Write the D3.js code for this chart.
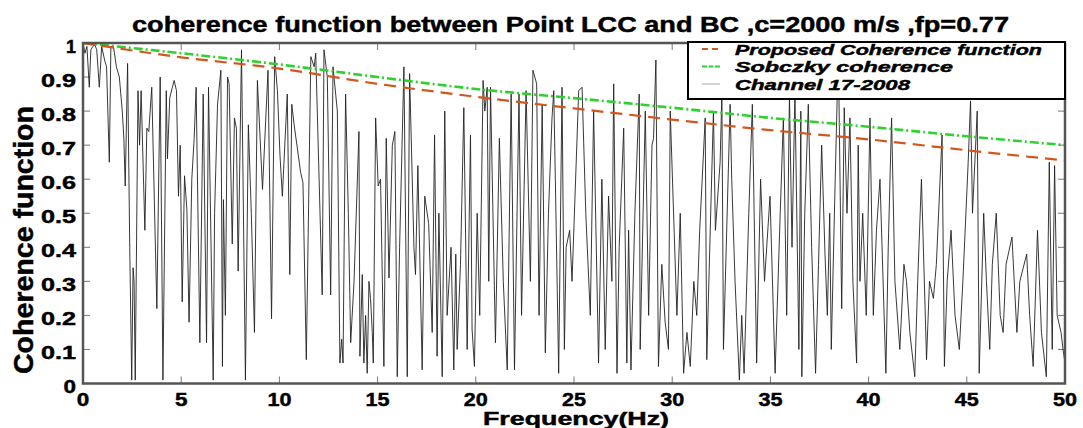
<!DOCTYPE html>
<html>
<head>
<meta charset="utf-8">
<script src="https://cdn.jsdelivr.net/npm/d3@7/dist/d3.min.js"></script>
<style>
  html, body { margin: 0; padding: 0; background: #fff; }
  svg { display: block; }
  text { font-family: "Liberation Sans", Arial, Helvetica, sans-serif; font-weight: bold; fill: #000; stroke: #000; stroke-width: 0.45; }
</style>
</head>
<body>
<svg id="chart" width="1083" height="428"></svg>
<script>
// ---------------- data ----------------
const titleText = "coherence function between Point LCC and BC ,c=2000 m/s ,fp=0.77";
const xLabelText = "Frequency(Hz)";
const yLabelText = "Coherence function";
const legendLabels = ["Proposed Coherence function", "Sobczky coherence", "Channel 17-2008"];

const xTicks = [0, 5, 10, 15, 20, 25, 30, 35, 40, 45, 50];
const yTicks = [0, 0.1, 0.2, 0.3, 0.4, 0.5, 0.6, 0.7, 0.8, 0.9, 1];
const yTickLabels = ["0", "0.1", "0.2", "0.3", "0.4", "0.5", "0.6", "0.7", "0.8", "0.9", "1"];

// model curves, read at 5 Hz steps
const modelFreq = [0, 5, 10, 15, 20, 25, 30, 35, 40, 45, 50];
const proposed = [1.0, 0.958, 0.925, 0.88, 0.842, 0.808, 0.775, 0.744, 0.717, 0.685, 0.655];
const sobczky  = [1.0, 0.97, 0.937, 0.90, 0.865, 0.838, 0.81, 0.78, 0.754, 0.726, 0.70];

const channel = [
[0,1.0],[0.1,0.97],[0.2,0.99],[0.32,0.87],[0.4,0.98],[0.5,0.99],[0.6,0.995],[0.7,0.98],[0.83,0.87],[0.95,0.99],
[1.1,0.95],[1.2,0.93],[1.34,0.65],[1.42,0.99],[1.55,0.99],[1.7,0.93],[1.85,0.9],[2.0,0.8],[2.08,0.72],[2.15,0.58],
[2.27,0.94],[2.38,0.4],[2.48,0.01],[2.55,0.34],[2.6,0.3],[2.66,0.01],[2.8,0.86],[2.88,0.7],[2.96,0.86],[3.15,0.45],
[3.25,0.75],[3.35,0.74],[3.5,0.87],[3.76,0.22],[3.93,0.9],[4.07,0.01],[4.24,0.86],[4.3,0.66],[4.42,0.84],[4.64,0.89],
[4.76,0.86],[4.86,0.55],[4.95,0.7],[5.05,0.24],[5.17,0.61],[5.29,0.51],[5.4,0.18],[5.54,0.6],[5.66,0.72],[5.76,0.87],
[5.95,0.12],[6.12,0.85],[6.29,0.12],[6.39,0.87],[6.63,0.01],[6.7,0.5],[6.85,0.82],[7.02,0.92],[7.1,0.05],[7.15,0.54],
[7.25,0.2],[7.36,0.9],[7.44,0.88],[7.6,0.41],[7.71,0.78],[7.81,0.75],[7.9,0.33],[8.07,0.98],[8.27,0.01],[8.42,0.76],
[8.57,0.5],[8.73,0.15],[8.88,0.89],[9.14,0.57],[9.42,0.92],[9.6,0.19],[9.76,0.96],[9.9,0.86],[10.03,0.67],[10.15,0.55],
[10.4,0.85],[10.53,0.32],[10.63,0.82],[10.75,0.76],[11.08,0.62],[11.2,0.59],[11.37,0.07],
[11.6,0.96],[11.77,0.93],[11.85,0.97],[12.18,0.26],[12.27,0.98],[12.44,0.9],[12.61,0.26],[12.73,0.93],[12.95,0.8],[13.08,0.06],
[13.17,0.13],[13.24,0.06],[13.37,0.85],[13.51,0.5],[13.63,0.12],[13.8,0.3],[14.05,0.74],[14.1,0.08],[14.22,0.32],[14.3,0.06],
[14.39,0.2],[14.47,0.03],[14.56,0.3],[14.64,0.25],[14.73,0.15],[14.78,0.06],[14.9,0.78],[15.03,0.58],[15.15,0.6],[15.32,0.05],
[15.44,0.72],[15.58,0.31],[15.75,0.7],[15.88,0.74],[16.0,0.02],[16.12,0.4],[16.34,0.93],[16.51,0.02],[16.63,0.91],[16.85,0.4],
[16.93,0.32],[17.05,0.64],[17.27,0.04],[17.4,0.55],[17.6,0.47],[17.78,0.15],[17.9,0.73],[18.03,0.08],[18.12,0.5],[18.29,0.02],
[18.42,0.8],[18.54,0.2],[18.74,0.4],[18.88,0.04],[18.98,0.38],[19.05,0.1],[19.22,0.35],[19.39,0.81],[19.56,0.1],[19.73,0.73],
[19.81,0.16],[19.93,0.05],[20.07,0.5],[20.2,0.2],[20.37,0.89],[20.46,0.8],[20.58,0.87],[20.66,0.3],[20.75,0.87],[21.0,0.12],
[21.2,0.72],[21.4,0.3],[21.6,0.04],[21.8,0.85],[21.97,0.04],[22.2,0.85],[22.33,0.2],[22.56,0.86],[22.78,0.3],[22.91,0.92],
[23.1,0.88],[23.22,0.2],[23.38,0.82],[23.54,0.09],[23.7,0.5],[23.88,0.78],[23.97,0.86],[24.05,0.6],[24.22,0.03],[24.39,0.87],
[24.51,0.1],[24.6,0.4],[24.78,0.45],[24.9,0.3],[25.24,0.86],[25.41,0.87],[25.6,0.5],[25.83,0.2],[26.0,0.8],[26.25,0.06],
[26.42,0.6],[26.59,0.1],[26.76,0.55],[26.93,0.3],[27.02,0.88],[27.19,0.03],[27.3,0.4],[27.53,0.75],[27.69,0.06],[27.78,0.45],
[27.9,0.04],[28.1,0.5],[28.32,0.85],[28.37,0.1],[28.63,0.8],[28.8,0.2],[28.97,0.7],[29.05,0.72],[29.17,0.95],[29.3,0.05],
[29.47,0.35],[29.64,0.18],[29.81,0.1],[29.9,0.8],[30.24,0.2],[30.41,0.5],[30.58,0.03],[30.75,0.15],[30.92,0.05],[31.1,0.3],
[31.25,0.2],[31.4,0.45],[31.68,0.78],[31.76,0.07],[32.1,0.8],[32.2,0.45],[32.44,0.65],[32.53,0.85],[32.61,0.1],[32.95,0.82],
[33.03,0.6],[33.2,0.3],[33.42,0.01],[33.54,0.2],[33.66,0.03],[33.9,0.5],[34.08,0.82],[34.3,0.06],[34.5,0.6],[34.7,0.3],
[34.98,0.55],[35.24,0.03],[35.5,0.5],[35.66,0.78],[35.83,0.2],[35.97,0.85],
[36.1,0.4],[36.25,0.85],[36.45,0.1],[36.55,0.8],[36.6,0.02],[36.75,0.5],[36.93,0.82],[37.1,0.4],[37.3,0.03],[37.45,0.35],
[37.61,0.7],[37.78,0.38],[37.9,0.2],[38.02,0.5],[38.1,0.1],[38.3,0.6],[38.46,0.98],[38.63,0.22],[38.76,0.81],[38.9,0.5],
[39.05,0.78],[39.2,0.3],[39.39,0.06],[39.47,0.7],[39.56,0.3],[39.7,0.5],[39.88,0.2],[40.07,0.78],[40.24,0.2],[40.4,0.45],
[40.58,0.6],[40.88,0.03],[41.0,0.4],[41.17,0.78],[41.34,0.3],[41.59,0.1],[41.8,0.35],[41.93,0.3],[42.1,0.15],[42.35,0.02],
[42.5,0.3],[42.69,0.6],[42.95,0.07],[43.1,0.3],[43.3,0.25],[43.45,0.35],[43.74,0.73],[43.86,0.05],[44.0,0.3],[44.2,0.45],
[44.4,0.2],[44.62,0.1],[44.8,0.3],[45.07,0.65],[45.19,0.83],[45.29,0.5],[45.53,0.8],[45.63,0.03],[45.86,0.5],[46.0,0.3],
[46.17,0.1],[46.3,0.35],[46.5,0.5],[46.7,0.2],[46.85,0.15],[47.0,0.35],[47.3,0.43],[47.55,0.15],[47.7,0.3],[48.05,0.38],
[48.2,0.2],[48.38,0.05],[48.6,0.45],[48.8,0.15],[49.05,0.02],[49.2,0.65],[49.35,0.1],[49.47,0.64],[49.6,0.2],[49.8,0.15],
[49.9,0.1],[50.0,0.06]
];

// ---------------- drawing ----------------
const svg = d3.select("#chart");
const plot = { left: 83, right: 1065, top: 43, bottom: 383.5 };

const x = d3.scaleLinear().domain([0, 50]).range([plot.left, plot.right]);
const y = d3.scaleLinear().domain([0, 1]).range([plot.bottom, plot.top]);

svg.append("defs").append("clipPath").attr("id", "clip")
  .append("rect").attr("x", plot.left).attr("y", plot.top)
  .attr("width", plot.right - plot.left).attr("height", plot.bottom - plot.top);

// ticks (inside, on all four sides)
const tickG = svg.append("g").attr("stroke", "#777").attr("stroke-width", 1);
xTicks.forEach(t => {
  tickG.append("line").attr("x1", x(t)).attr("x2", x(t)).attr("y1", plot.bottom).attr("y2", plot.bottom - 7);
  tickG.append("line").attr("x1", x(t)).attr("x2", x(t)).attr("y1", plot.top).attr("y2", plot.top + 7);
});
yTicks.forEach(t => {
  tickG.append("line").attr("x1", plot.left).attr("x2", plot.left + 7).attr("y1", y(t)).attr("y2", y(t));
  tickG.append("line").attr("x1", plot.right).attr("x2", plot.right - 7).attr("y1", y(t)).attr("y2", y(t));
});

const lines = svg.append("g").attr("clip-path", "url(#clip)");

const chLine = d3.line().x(d => x(d[0])).y(d => y(d[1]));
lines.append("path").datum(channel)
  .attr("d", chLine).attr("fill", "none")
  .attr("stroke", "#222").attr("stroke-width", 0.9).attr("stroke-linejoin", "round");

const mLine = d3.line().x((d, i) => x(modelFreq[i])).y(d => y(d)).curve(d3.curveMonotoneX);
lines.append("path").datum(sobczky).attr("d", mLine).attr("fill", "none")
  .attr("stroke", "#2fd12f").attr("stroke-width", 2.6).attr("stroke-dasharray", "9,3,2,3");
lines.append("path").datum(proposed).attr("d", mLine).attr("fill", "none")
  .attr("stroke", "#d4561f").attr("stroke-width", 2.2).attr("stroke-dasharray", "12,7");

// frame
svg.append("rect").attr("x", plot.left).attr("y", plot.top)
  .attr("width", plot.right - plot.left).attr("height", plot.bottom - plot.top)
  .attr("fill", "none").attr("stroke", "#555").attr("stroke-width", 2.5);

// y tick labels
const yl = svg.append("g");
yTicks.forEach((t, i) => {
  const lab = yTickLabels[i];
  const w = lab.length === 1 ? (lab === "1" ? 10 : 12.5) : 35;
  yl.append("text").attr("x", 76).attr("y", y(t) + 9.5)
    .attr("text-anchor", "end").attr("font-size", 18.5)
    .attr("textLength", w).attr("lengthAdjust", "spacingAndGlyphs").text(lab);
});

// x tick labels
const xl = svg.append("g");
xTicks.forEach(t => {
  const lab = String(t);
  xl.append("text").attr("x", x(t)).attr("y", 405.5)
    .attr("text-anchor", "middle").attr("font-size", 18)
    .attr("textLength", lab.length === 1 ? 12.5 : 24).attr("lengthAdjust", "spacingAndGlyphs").text(lab);
});

// axis titles
svg.append("text").attr("x", 576).attr("y", 424.5).attr("text-anchor", "middle")
  .attr("font-size", 18).attr("textLength", 186).attr("lengthAdjust", "spacingAndGlyphs").text(xLabelText);

svg.append("text").attr("transform", "translate(33,240) rotate(-90)")
  .attr("text-anchor", "middle").attr("font-size", 27)
  .attr("textLength", 268).attr("lengthAdjust", "spacingAndGlyphs").text(yLabelText);

// title
svg.append("text").attr("x", 570.5).attr("y", 32).attr("text-anchor", "middle")
  .attr("font-size", 22).attr("textLength", 877).attr("lengthAdjust", "spacingAndGlyphs").text(titleText);

// legend
const lg = svg.append("g");
lg.append("rect").attr("x", 688).attr("y", 42).attr("width", 377).attr("height", 57)
  .attr("fill", "#fff").attr("stroke", "#000").attr("stroke-width", 2);
const legendStyles = [
  { color: "#d4561f", width: 2, dash: "6,4" },
  { color: "#2fd12f", width: 2, dash: "5,1.5" },
  { color: "#aaa", width: 1, dash: null }
];
const legendLens = [307, 218, 175];
const legendBase = [54.5, 72, 89.5];
legendLabels.forEach((lab, i) => {
  const st = legendStyles[i];
  const ly = legendBase[i] - 5.5;
  const ln = lg.append("line").attr("x1", 702).attr("x2", 720).attr("y1", ly).attr("y2", ly)
    .attr("stroke", st.color).attr("stroke-width", st.width);
  if (st.dash) ln.attr("stroke-dasharray", st.dash);
  lg.append("text").attr("x", 735).attr("y", legendBase[i])
    .attr("font-size", 15.4).attr("font-style", "italic")
    .attr("textLength", legendLens[i]).attr("lengthAdjust", "spacingAndGlyphs").text(lab);
});
</script>
</body>
</html>
